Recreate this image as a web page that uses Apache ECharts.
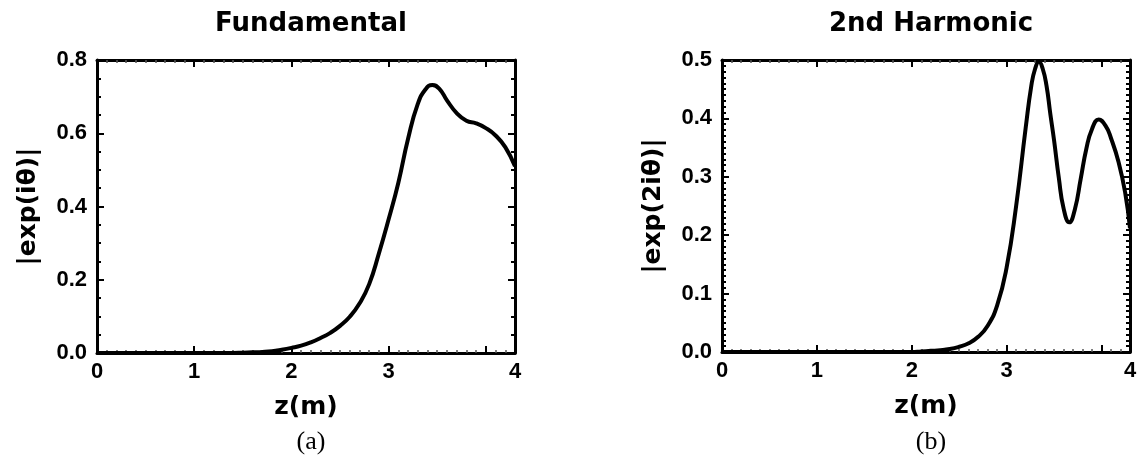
<!DOCTYPE html>
<html>
<head>
<meta charset="utf-8">
<script src="https://cdn.jsdelivr.net/npm/echarts@6/dist/echarts.min.js"></script>
<style>
  html, body { margin: 0; padding: 0; background: #fff; }
</style>
</head>
<body>
<div id="chart" style="width:1140px;height:465px;"></div>
<script>
// 数据：z 和幅值
var zFund = [0, 0.5, 1.0, 1.4, 1.5, 1.6, 1.7, 1.8, 1.9, 2.0, 2.1, 2.2, 2.3, 2.4, 2.5, 2.6, 2.7, 2.8, 2.9,
  3.0, 3.1, 3.2, 3.3, 3.38, 3.45, 3.52, 3.6, 3.7, 3.8, 3.9, 4.0, 4.1, 4.2, 4.3];
var fund = [0, 0, 0, 0, 0.001, 0.002, 0.003, 0.005, 0.009, 0.014, 0.020, 0.029, 0.041, 0.055, 0.074, 0.099, 0.135, 0.188, 0.272,
  0.365, 0.465, 0.585, 0.680, 0.720, 0.732, 0.722, 0.690, 0.655, 0.634, 0.627, 0.614, 0.594, 0.562, 0.510];

var zHarm = [0, 0.5, 1.0, 1.5, 2.0, 2.1, 2.2, 2.3, 2.4, 2.5, 2.6, 2.7, 2.8, 2.9, 3.0, 3.1, 3.2, 3.26, 3.3, 3.34,
  3.38, 3.42, 3.46, 3.5, 3.55, 3.6, 3.66, 3.72, 3.78, 3.84, 3.9, 3.97, 4.04, 4.1, 4.18, 4.25, 4.3];
var harm = [0, 0, 0, 0, 0, 0.001, 0.002, 0.003, 0.005, 0.009, 0.015, 0.026, 0.045, 0.080, 0.145, 0.250, 0.383, 0.456, 0.485, 0.497,
  0.485, 0.456, 0.408, 0.362, 0.298, 0.246, 0.222, 0.245, 0.296, 0.348, 0.382, 0.398, 0.388, 0.366, 0.325, 0.272, 0.212];

var xLabelValues = [0, 1, 2, 3, 4.3];
var xLabelText = ['0', '1', '2', '3', '4'];
var xTickValues = [0, 1, 2, 3, 4];

var titles = ['Fundamental', '2nd Harmonic'];
var captions = ['(a)', '(b)'];
var yNames = ['|exp(i\u03b8)|', '|exp(2i\u03b8)|'];

var chartDOM = document.getElementById('chart');
var chart = echarts.init(chartDOM, null, { renderer: 'canvas' });

var font = 'DejaVu Sans';
var tickFont = 'Liberation Sans';
var grids = [
  { left: 97, top: 60, width: 418, height: 293 },
  { left: 722, top: 60, width: 408, height: 292 }
];
var yMax = [0.8, 0.5];
var yInterval = [0.2, 0.1];
var yMinorSplit = [4, 10];

function pairs(xs, ys) {
  return xs.map(function (x, i) { return [x, ys[i]]; });
}

var xAxes = [];
var yAxes = [];
grids.forEach(function (g, i) {
  ['bottom', 'top'].forEach(function (pos) {
    xAxes.push({
      type: 'value', gridIndex: i, position: pos, min: 0, max: 4.3, interval: 1,
      splitLine: { show: false },
      axisLine: { show: true, onZero: false, lineStyle: { color: '#000', width: 3 } },
      axisTick: { show: true, inside: true, length: 7, customValues: xTickValues, lineStyle: { color: '#000', width: 2 } },
      minorTick: { show: true, splitNumber: 10, length: 3, lineStyle: { color: '#555', width: 1.5 } },
      axisLabel: {
        show: pos === 'bottom', customValues: xLabelValues, margin: 8,
        color: '#000', fontFamily: tickFont, fontWeight: 'bold', fontSize: 22,
        formatter: function (v) {
          var k = xLabelValues.indexOf(v);
          return k >= 0 ? xLabelText[k] : '';
        }
      },
      name: pos === 'bottom' ? 'z(m)' : '',
      nameLocation: 'middle', nameGap: 42,
      nameTextStyle: { color: '#000', fontFamily: font, fontWeight: 'bold', fontSize: 25 }
    });
  });
  ['left', 'right'].forEach(function (pos) {
    yAxes.push({
      type: 'value', gridIndex: i, position: pos, min: 0, max: yMax[i], interval: yInterval[i],
      splitLine: { show: false },
      axisLine: { show: true, onZero: false, lineStyle: { color: '#000', width: 3 } },
      axisTick: { show: true, inside: true, length: 7, lineStyle: { color: '#000', width: 2 } },
      minorTick: { show: true, splitNumber: yMinorSplit[i], length: 4, lineStyle: { color: '#000', width: 2 } },
      axisLabel: {
        show: pos === 'left', margin: 10,
        color: '#000', fontFamily: tickFont, fontWeight: 'bold', fontSize: 22,
        formatter: function (v) { return v.toFixed(1); }
      },
      name: pos === 'left' ? yNames[i] : '',
      nameLocation: 'middle', nameGap: 56,
      nameTextStyle: { color: '#000', fontFamily: font, fontWeight: 'bold', fontSize: 25 }
    });
  });
});

var titleList = [];
grids.forEach(function (g, i) {
  var cx = g.left + g.width / 2;
  titleList.push({
    text: titles[i], left: cx, top: 6, textAlign: 'center',
    textStyle: { color: '#000', fontFamily: font, fontWeight: 'bold', fontSize: 26 }
  });
  titleList.push({
    text: captions[i], left: cx, top: 424, textAlign: 'center',
    textStyle: { color: '#000', fontFamily: 'Liberation Serif', fontWeight: 'normal', fontSize: 26 }
  });
});

var option = {
  animation: false,
  backgroundColor: '#fff',
  title: titleList,
  grid: grids,
  xAxis: xAxes,
  yAxis: yAxes,
  series: [
    {
      name: 'Fundamental', type: 'line', xAxisIndex: 0, yAxisIndex: 0,
      data: pairs(zFund, fund), showSymbol: false, smooth: 0.5,
      lineStyle: { color: '#000', width: 4 }, z: 10
    },
    {
      name: '2nd Harmonic', type: 'line', xAxisIndex: 2, yAxisIndex: 2,
      data: pairs(zHarm, harm), showSymbol: false, smooth: 0.5,
      lineStyle: { color: '#000', width: 4 }, z: 10
    }
  ]
};
chart.setOption(option);
</script>
</body>
</html>
